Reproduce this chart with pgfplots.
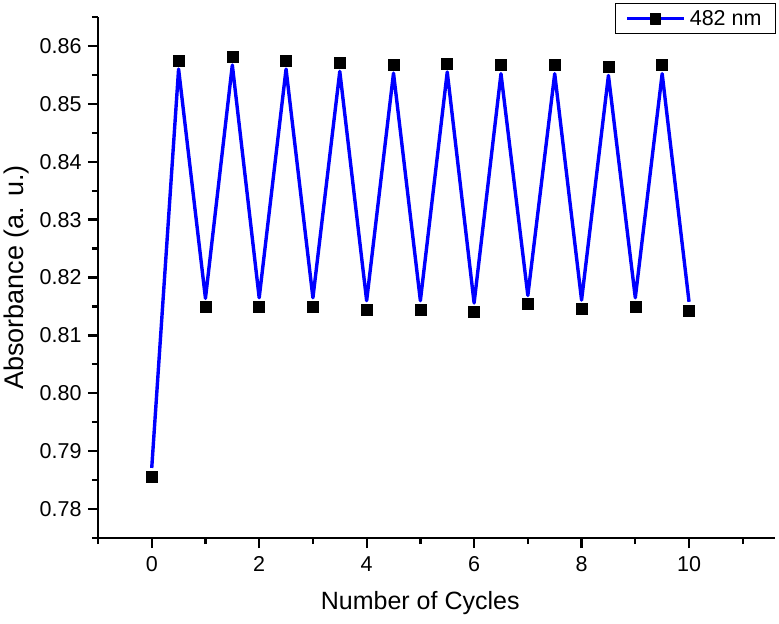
\documentclass[border=0pt]{standalone}
\usepackage{fontspec}
\setmainfont{Liberation Sans}
\usepackage{pgfplots}
\pgfplotsset{compat=1.18}
\begin{document}
\begin{tikzpicture}
\begin{axis}[
  scale only axis,
  width=677bp, height=521bp,
  xmin=-1, xmax=11.6,
  ymin=0.775, ymax=0.865,
  axis x line*=bottom, axis y line*=left,
  axis line style={line width=2.6bp, -},
  tick style={line width=2.3bp, black},
  tick align=outside,
  major tick length=10bp, minor tick length=6bp,
  xtick={0,2,4,6,8,10},
  minor xtick={-1,1,3,5,7,9,11},
  ytick={0.78,0.79,0.80,0.81,0.82,0.83,0.84,0.85,0.86},
  minor ytick={0.775,0.785,0.795,0.805,0.815,0.825,0.835,0.845,0.855,0.865},
  yticklabel style={/pgf/number format/.cd, fixed, fixed zerofill, precision=2, /tikz/.cd, xshift=-3bp},
  xticklabel style={yshift=-5bp},
  /pgf/number format/assume math mode=true,
  ticklabel style={font=\fontsize{21.5bp}{24bp}\selectfont},
  xlabel={Number of Cycles},
  ylabel={Absorbance (a. u.)},
  xlabel style={font=\fontsize{25bp}{30bp}\selectfont, at={(axis description cs:0.476,-0.125)}, anchor=center},
  ylabel style={font=\fontsize{27bp}{30bp}\selectfont, at={(axis description cs:-0.1211,0.5)}, anchor=center},
  legend style={at={(1.0015,1.0269)}, anchor=north east, draw=black, line width=1bp,
    font=\fontsize{21.5bp}{24bp}\selectfont, inner xsep=10bp, inner ysep=5bp,
    nodes={inner xsep=4bp}},
  legend cell align=left,
  clip=false,
]
\addplot[blue, line width=3.4bp, line join=round,
  legend image code/.code={
    \draw[blue, line width=3bp] (0bp,0bp) -- (57bp,0bp);
    \draw[black, fill=black, line width=0.5bp] (23bp,-5.5bp) rectangle (33bp,5.5bp);}
] coordinates {
(0,0.7871) (0.5,0.8560) (1,0.8164) (1.5,0.8567) (2,0.8165) (2.5,0.8560)
(3,0.8165) (3.5,0.8556) (4,0.8160) (4.5,0.8553) (5,0.8160) (5.5,0.8555)
(6,0.8156) (6.5,0.8552) (7,0.8169) (7.5,0.8552) (8,0.8161) (8.5,0.8549)
(9,0.8165) (9.5,0.8552) (10,0.8158)
};
\addlegendentry{482 nm}
\addplot[only marks, mark=square*, mark size=5.5bp, mark options={black, fill=black, line width=0.5bp}, forget plot] coordinates {
(0,0.7856) (0.5,0.8575) (1,0.8149) (1.5,0.8582) (2,0.8150) (2.5,0.8575)
(3,0.8150) (3.5,0.8571) (4,0.8145) (4.5,0.8568) (5,0.8145) (5.5,0.8570)
(6,0.8141) (6.5,0.8567) (7,0.8154) (7.5,0.8567) (8,0.8146) (8.5,0.8564)
(9,0.8150) (9.5,0.8567) (10,0.8143)
};
\end{axis}
\pgfresetboundingbox
\path[use as bounding box] (-98bp,-86bp) rectangle (681bp,538bp);
\end{tikzpicture}
\end{document}
